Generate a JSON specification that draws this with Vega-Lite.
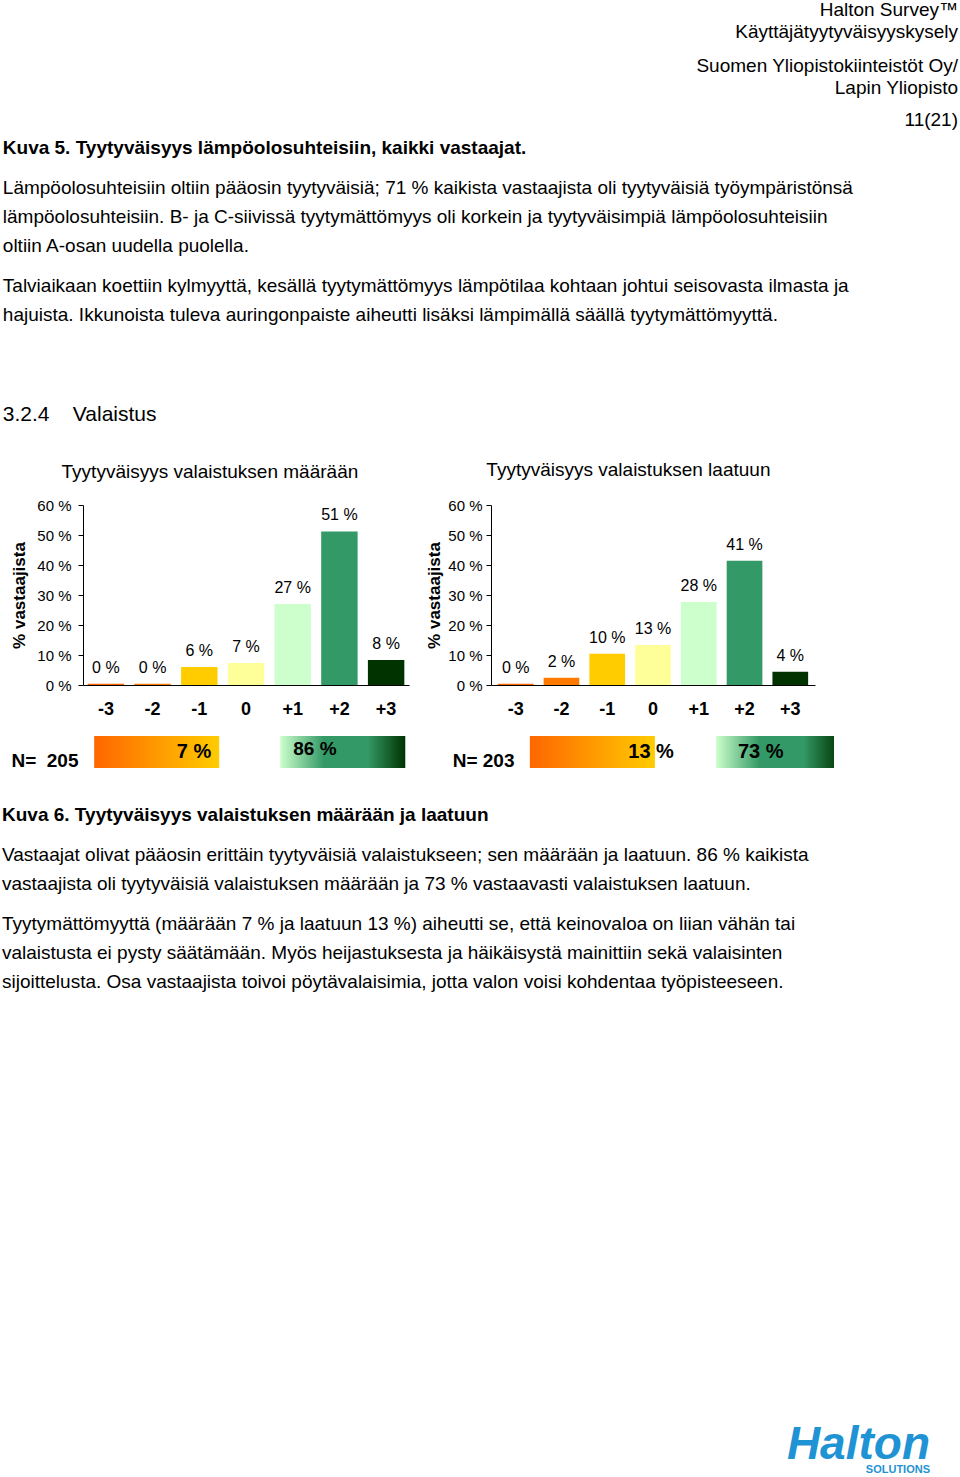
{
  "$schema": "https://vega.github.io/schema/vega-lite/v6.json",
  "background": "white",
  "padding": {"left": 2, "right": 2, "top": 1, "bottom": 0},
  "config": {
    "font": "Liberation Sans",
    "view": {"stroke": null},
    "title": {"color": "black", "subtitleColor": "black", "font": "Liberation Sans", "subtitleFont": "Liberation Sans"},
    "axis": {"labelFont": "Liberation Sans", "titleFont": "Liberation Sans"}
  },
  "datasets": {
    "amount": [
      {"cat": "-3", "pct": 0.4, "label": "0 %"},
      {"cat": "-2", "pct": 0.4, "label": "0 %"},
      {"cat": "-1", "pct": 6.0, "label": "6 %"},
      {"cat": "0", "pct": 7.3, "label": "7 %"},
      {"cat": "+1", "pct": 27.0, "label": "27 %"},
      {"cat": "+2", "pct": 51.2, "label": "51 %"},
      {"cat": "+3", "pct": 8.3, "label": "8 %"}
    ],
    "quality": [
      {"cat": "-3", "pct": 0.4, "label": "0 %"},
      {"cat": "-2", "pct": 2.4, "label": "2 %"},
      {"cat": "-1", "pct": 10.4, "label": "10 %"},
      {"cat": "0", "pct": 13.3, "label": "13 %"},
      {"cat": "+1", "pct": 27.7, "label": "28 %"},
      {"cat": "+2", "pct": 41.4, "label": "41 %"},
      {"cat": "+3", "pct": 4.4, "label": "4 %"}
    ],
    "sumAmount": [
      {"n": "N=\u00a0\u00a0205", "side": "neg", "label": "7 %"},
      {"n": "N=\u00a0\u00a0205", "side": "pos", "label": "86 %"}
    ],
    "sumQuality": [
      {"n": "N= 203", "side": "neg", "label": "13 %"},
      {"n": "N= 203", "side": "pos", "label": "73 %"}
    ]
  },
  "title": {
    "text": ["Halton Survey™", "Käyttäjätyytyväisyyskysely"],
    "subtitle": ["Suomen Yliopistokiinteistöt Oy/", "Lapin Yliopisto"],
    "anchor": "end", "frame": "bounds",
    "fontSize": 19, "fontWeight": "normal", "lineHeight": 22,
    "subtitleFontSize": 19, "subtitleLineHeight": 22, "subtitlePadding": 15,
    "offset": 13
  },
  "vconcat": [
    {
      "title": {"text": "11(21)", "anchor": "end", "frame": "bounds", "fontSize": 19, "fontWeight": "normal", "offset": 9},
      "spacing": 35,
      "vconcat": [
        {
          "title": {
            "text": "Kuva 5. Tyytyväisyys lämpöolosuhteisiin, kaikki vastaajat.",
            "subtitle": [
              "Lämpöolosuhteisiin oltiin pääosin tyytyväisiä; 71 % kaikista vastaajista oli tyytyväisiä työympäristönsä",
              "lämpöolosuhteisiin. B- ja C-siivissä tyytymättömyys oli korkein ja tyytyväisimpiä lämpöolosuhteisiin",
              "oltiin A-osan uudella puolella."
            ],
            "anchor": "start", "frame": "bounds",
            "fontSize": 19, "fontWeight": "bold",
            "subtitleFontSize": 19, "subtitleFontWeight": "normal", "subtitleLineHeight": 29, "subtitlePadding": 21,
            "offset": 21
          },
          "vconcat": [
            {
              "title": {
                "text": [
                  "Talviaikaan koettiin kylmyyttä, kesällä tyytymättömyys lämpötilaa kohtaan johtui seisovasta ilmasta ja",
                  "hajuista. Ikkunoista tuleva auringonpaiste aiheutti lisäksi lämpimällä säällä tyytymättömyyttä."
                ],
                "anchor": "start", "frame": "bounds",
                "fontSize": 19, "fontWeight": "normal", "lineHeight": 29,
                "offset": 79
              },
              "spacing": 18,
              "vconcat": [
                {
                  "title": {"text": "3.2.4 \u00a0\u00a0\u00a0Valaistus", "anchor": "start", "frame": "bounds", "fontSize": 21, "fontWeight": "normal", "dx": -8, "offset": 36},
                  "spacing": 16,
                  "hconcat": [
                    {
                      "width": 326, "height": 180,
                      "data": {"name": "amount"},
                      "title": {"text": "Tyytyväisyys valaistuksen määrään", "anchor": "middle", "frame": "bounds", "fontSize": 19, "fontWeight": "normal", "offset": 16},
                      "encoding": {
                        "x": {"field": "cat", "type": "nominal", "sort": null,
                          "scale": {"domain": ["-3", "-2", "-1", "0", "+1", "+2", "+3"], "paddingInner": 0.22, "paddingOuter": 0.1},
                          "axis": {"title": null, "labelAngle": 0, "labelFontSize": 18, "labelFontWeight": "bold", "labelColor": "black", "ticks": false, "labelPadding": 15, "domainColor": "black"}},
                        "y": {"field": "pct", "type": "quantitative", "scale": {"domain": [0, 60], "nice": false},
                          "axis": {"title": "% vastaajista", "titleFontSize": 17, "titleFontWeight": "bold", "titleColor": "black", "titlePadding": 8,
                            "values": [0, 10, 20, 30, 40, 50, 60], "labelExpr": "datum.value + ' %'", "labelFontSize": 15, "labelColor": "black",
                            "labelPadding": 7, "tickSize": 5, "tickColor": "black", "domainColor": "black", "grid": false, "labelOverlap": false}}
                      },
                      "layer": [
                        {
                          "mark": {"type": "bar"},
                          "encoding": {
                            "color": {"field": "cat", "type": "nominal", "legend": null,
                              "scale": {"domain": ["-3", "-2", "-1", "0", "+1", "+2", "+3"], "range": ["#ff6600", "#ff7a00", "#ffcc00", "#ffff99", "#ccffcc", "#339966", "#003300"]}}
                          }
                        },
                        {
                          "mark": {"type": "text", "baseline": "middle", "dy": -16, "fontSize": 16, "color": "black"},
                          "encoding": {"text": {"field": "label"}}
                        }
                      ]
                    },
                    {
                      "width": 324, "height": 180,
                      "data": {"name": "quality"},
                      "title": {"text": "Tyytyväisyys valaistuksen laatuun", "anchor": "middle", "frame": "bounds", "fontSize": 19, "fontWeight": "normal", "offset": 18, "dx": 8},
                      "encoding": {
                        "x": {"field": "cat", "type": "nominal", "sort": null,
                          "scale": {"domain": ["-3", "-2", "-1", "0", "+1", "+2", "+3"], "paddingInner": 0.22, "paddingOuter": 0.15},
                          "axis": {"title": null, "labelAngle": 0, "labelFontSize": 18, "labelFontWeight": "bold", "labelColor": "black", "ticks": false, "labelPadding": 15, "domainColor": "black"}},
                        "y": {"field": "pct", "type": "quantitative", "scale": {"domain": [0, 60], "nice": false},
                          "axis": {"title": "% vastaajista", "titleFontSize": 17, "titleFontWeight": "bold", "titleColor": "black", "titlePadding": 4,
                            "values": [0, 10, 20, 30, 40, 50, 60], "labelExpr": "datum.value + ' %'", "labelFontSize": 15, "labelColor": "black",
                            "labelPadding": 4, "tickSize": 5, "tickColor": "black", "domainColor": "black", "grid": false, "labelOverlap": false}}
                      },
                      "layer": [
                        {
                          "mark": {"type": "bar"},
                          "encoding": {
                            "color": {"field": "cat", "type": "nominal", "legend": null,
                              "scale": {"domain": ["-3", "-2", "-1", "0", "+1", "+2", "+3"], "range": ["#ff6600", "#ff9900", "#ffcc00", "#ffff99", "#ccffcc", "#339966", "#003300"]}}
                          }
                        },
                        {
                          "mark": {"type": "text", "baseline": "middle", "dy": -16, "fontSize": 16, "color": "black"},
                          "encoding": {"text": {"field": "label"}}
                        }
                      ]
                    }
                  ]
                },
                {
                  "spacing": 43,
                  "hconcat": [
                    {
                      "width": 326, "height": 32,
                      "data": {"name": "sumAmount"},
                      "encoding": {
                        "x": {"field": "side", "type": "nominal", "scale": {"domain": ["neg", "pos"], "paddingInner": 0.328, "paddingOuter": 0.04, "align": 0.75}, "axis": null},
                        "y": {"field": "n", "type": "nominal", "scale": {"paddingInner": 0, "paddingOuter": 0},
                          "axis": {"title": null, "domain": false, "ticks": false, "labelFontSize": 19, "labelFontWeight": "bold", "labelColor": "black", "labelPadding": 5, "labelOffset": 9}}
                      },
                      "layer": [
                        {"transform": [{"filter": "datum.side === 'neg'"}],
                         "mark": {"type": "bar", "color": {"gradient": "linear", "x1": 0, "y1": 0, "x2": 1, "y2": 0, "stops": [{"offset": 0, "color": "#ff6600"}, {"offset": 1, "color": "#ffcc00"}]}}},
                        {"transform": [{"filter": "datum.side === 'pos'"}],
                         "mark": {"type": "bar", "color": {"gradient": "linear", "x1": 0, "y1": 0, "x2": 1, "y2": 0, "stops": [{"offset": 0, "color": "#ccffcc"}, {"offset": 0.35, "color": "#339966"}, {"offset": 0.7, "color": "#339966"}, {"offset": 1, "color": "#003300"}]}}},
                        {"transform": [{"filter": "datum.side === 'neg'"}],
                         "mark": {"type": "text", "align": "right", "baseline": "middle", "fontSize": 20, "fontWeight": "bold", "color": "black", "dx": -8},
                         "encoding": {"x": {"field": "side", "type": "nominal", "bandPosition": 1, "scale": {"domain": ["neg", "pos"], "paddingInner": 0.328, "paddingOuter": 0.04, "align": 0.75}, "axis": null}, "text": {"field": "label"}}},
                        {"transform": [{"filter": "datum.side === 'pos'"}],
                         "mark": {"type": "text", "align": "left", "baseline": "middle", "fontSize": 19, "fontWeight": "bold", "color": "black", "dx": 13, "dy": -3},
                         "encoding": {"x": {"field": "side", "type": "nominal", "bandPosition": 0, "scale": {"domain": ["neg", "pos"], "paddingInner": 0.328, "paddingOuter": 0.04, "align": 0.75}, "axis": null}, "text": {"field": "label"}}}
                      ]
                    },
                    {
                      "width": 315, "height": 32,
                      "data": {"name": "sumQuality"},
                      "encoding": {
                        "x": {"field": "side", "type": "nominal", "scale": {"domain": ["neg", "pos"], "range": [0, 326], "paddingInner": 0.328, "paddingOuter": 0.04, "align": 0.73}, "axis": null},
                        "y": {"field": "n", "type": "nominal", "scale": {"paddingInner": 0, "paddingOuter": 0},
                          "axis": {"title": null, "domain": false, "ticks": false, "labelFontSize": 19, "labelFontWeight": "bold", "labelColor": "black", "labelPadding": 5, "labelOffset": 9}}
                      },
                      "layer": [
                        {"transform": [{"filter": "datum.side === 'neg'"}],
                         "mark": {"type": "bar", "clip": true, "color": {"gradient": "linear", "x1": 0, "y1": 0, "x2": 1, "y2": 0, "stops": [{"offset": 0, "color": "#ff6600"}, {"offset": 1, "color": "#ffcc00"}]}}},
                        {"transform": [{"filter": "datum.side === 'pos'"}],
                         "mark": {"type": "bar", "clip": true, "color": {"gradient": "linear", "x1": 0, "y1": 0, "x2": 1, "y2": 0, "stops": [{"offset": 0, "color": "#ccffcc"}, {"offset": 0.35, "color": "#339966"}, {"offset": 0.7, "color": "#339966"}, {"offset": 1, "color": "#003300"}]}}},
                        {"transform": [{"filter": "datum.side === 'neg'"}],
                         "mark": {"type": "text", "align": "right", "baseline": "middle", "fontSize": 20, "fontWeight": "bold", "color": "black", "dx": 19},
                         "encoding": {"x": {"field": "side", "type": "nominal", "bandPosition": 1, "scale": {"domain": ["neg", "pos"], "range": [0, 326], "paddingInner": 0.328, "paddingOuter": 0.04, "align": 0.73}, "axis": null}, "text": {"field": "label"}}},
                        {"transform": [{"filter": "datum.side === 'pos'"}],
                         "mark": {"type": "text", "align": "left", "baseline": "middle", "fontSize": 20, "fontWeight": "bold", "color": "black", "dx": 22},
                         "encoding": {"x": {"field": "side", "type": "nominal", "bandPosition": 0, "scale": {"domain": ["neg", "pos"], "range": [0, 326], "paddingInner": 0.328, "paddingOuter": 0.04, "align": 0.73}, "axis": null}, "text": {"field": "label"}}}
                      ]
                    }
                  ]
                }
              ]
            }
          ]
        },
        {
          "title": {
            "text": "Kuva 6. Tyytyväisyys valaistuksen määrään ja laatuun",
            "subtitle": [
              "Vastaajat olivat pääosin erittäin tyytyväisiä valaistukseen; sen määrään ja laatuun. 86 % kaikista",
              "vastaajista oli tyytyväisiä valaistuksen määrään ja 73 % vastaavasti valaistuksen laatuun."
            ],
            "anchor": "start", "frame": "bounds",
            "fontSize": 19, "fontWeight": "bold",
            "subtitleFontSize": 19, "subtitleFontWeight": "normal", "subtitleLineHeight": 29, "subtitlePadding": 21,
            "offset": 21
          },
          "vconcat": [
            {
              "title": {
                "text": [
                  "Tyytymättömyyttä (määrään 7 % ja laatuun 13 %) aiheutti se, että keinovaloa on liian vähän tai",
                  "valaistusta ei pysty säätämään. Myös heijastuksesta ja häikäisystä mainittiin sekä valaisinten",
                  "sijoittelusta. Osa vastaajista toivoi pöytävalaisimia, jotta valon voisi kohdentaa työpisteeseen."
                ],
                "anchor": "start", "frame": "bounds", "dx": -81,
                "fontSize": 19, "fontWeight": "normal", "lineHeight": 29,
                "offset": 10
              },
              "vconcat": [
                {
                  "width": 875, "height": 411,
                  "data": {"values": [{}]},
                  "mark": {"type": "text"},
                  "encoding": {"text": {"value": ""}},
                  "title": {
                    "text": "Halton", "subtitle": "SOLUTIONS",
                    "orient": "bottom", "anchor": "end", "frame": "bounds", "dx": -28,
                    "fontSize": 46, "fontStyle": "italic", "fontWeight": 900, "color": "#1f93d3",
                    "subtitleFontSize": 11, "subtitleColor": "#1f93d3", "subtitleFontWeight": "bold", "subtitlePadding": -5,
                    "offset": 10
                  }
                }
              ]
            }
          ]
        }
      ]
    }
  ]
}
